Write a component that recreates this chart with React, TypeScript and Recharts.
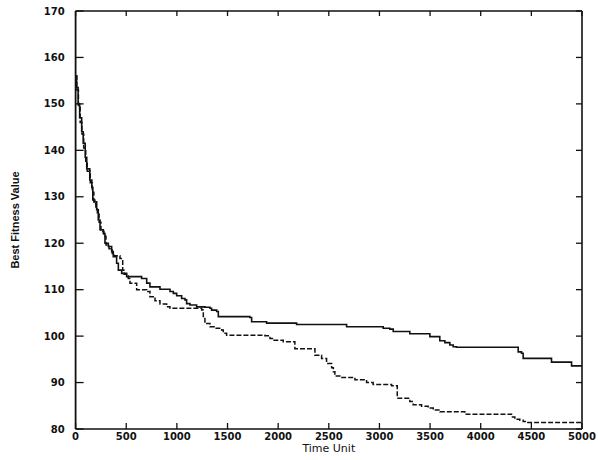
import React from 'react';
import { LineChart, Line, XAxis, YAxis } from 'recharts';

// step points: time unit -> best fitness (held until next point)
const solidTimes = [
  0, 10, 25, 40, 60, 75, 95, 110, 140, 160, 170, 190, 208, 224, 241, 274, 290, 323, 356, 372,
  405, 422, 455, 504, 652, 702, 734, 833, 932, 965, 998, 1047, 1080, 1096, 1129, 1195, 1277,
  1327, 1343, 1393, 1409, 1721, 1738, 1886, 2182, 2676, 3037, 3103, 3136, 3300, 3498, 3596,
  3646, 3695, 3728, 3761, 4370, 4403, 4419, 4699, 4897, 5000,
];
const solidValues = [
  156, 153.5, 150, 147, 144, 141.5, 138.5, 136, 133.6, 132, 129.3, 128.9, 127.2, 125, 122.9,
  122.1, 120, 119.3, 118.2, 117.1, 115.7, 114.2, 113.5, 112.8, 112.4, 111.4, 110.6, 110.1,
  109.6, 109.2, 108.7, 108.1, 107.8, 107, 106.7, 106.3, 106.2, 106, 105.6, 105.3, 104.2, 104,
  103.1, 102.8, 102.5, 102, 101.7, 101.5, 101, 100.5, 99.9, 99, 98.6, 98.1, 97.7, 97.6, 96.6,
  96.3, 95.2, 94.4, 93.6, 93.6,
];

const dashedTimes = [
  0, 12, 28, 45, 62, 80, 100, 115, 145, 165, 180, 200, 215, 232, 250, 280, 300, 330, 362, 380,
  438, 465, 480, 520, 537, 603, 702, 734, 784, 833, 899, 932, 1245, 1261, 1277, 1327, 1376,
  1442, 1458, 1491, 1869, 1919, 1951, 2050, 2165, 2363, 2429, 2478, 2528, 2545, 2560, 2609,
  2758, 2873, 2938, 3120, 3176, 3300, 3333, 3416, 3481, 3531, 3597, 3843, 4304, 4337, 4386,
  4419, 4452, 5000,
];
const dashedValues = [
  156, 153, 149.5, 146, 143.5, 140.5, 137.5, 135.5, 133, 131, 128.5, 127.8, 126.5, 124.5,
  122.5, 121.5, 119.6, 118.8, 117.8, 117.3, 116.7, 114.2, 113.3, 112.4, 111.4, 110, 109.6,
  108.5, 107.6, 106.9, 106.3, 106, 105.6, 103.8, 102.7, 102, 101.7, 101.3, 100.6, 100.2,
  100.1, 99.5, 99.1, 98.8, 97.3, 95.9, 95.2, 94.1, 93.2, 92.3, 91.4, 91.1, 90.6, 90, 89.6,
  89.3, 86.6, 85.9, 85.2, 84.9, 84.5, 84.1, 83.7, 83.2, 82.6, 82.1, 81.9, 81.6, 81.4, 81.4,
];

const xTicks = [0, 500, 1000, 1500, 2000, 2500, 3000, 3500, 4000, 4500, 5000];
const yTicks = [80, 90, 100, 110, 120, 130, 140, 150, 160, 170];

const solidData = solidTimes.map((t, i) => ({ t, v: solidValues[i] }));
const dashedData = dashedTimes.map((t, i) => ({ t, v: dashedValues[i] }));

const tickFont = { fontFamily: 'DejaVu Sans', fontSize: 10, fontWeight: 700, fill: '#111' };
const ink = '#111';

const LeftTick = ({ x, y, payload }: any) => (
  <g>
    <line x1={x} x2={x + 8} y1={y} y2={y} stroke={ink} strokeWidth={1.3} />
    <text x={x - 11} y={y} dy="0.36em" textAnchor="end" {...tickFont}>
      {payload.value}
    </text>
  </g>
);

const BottomTick = ({ x, y, payload }: any) => (
  <g>
    <line x1={x} x2={x} y1={y} y2={y - 6} stroke={ink} strokeWidth={1.3} />
    <text x={x} y={y + 11} textAnchor="middle" {...tickFont}>
      {payload.value}
    </text>
  </g>
);

const TopTick = ({ x, y }: any) => (
  <line x1={x} x2={x} y1={y} y2={y + 5} stroke={ink} strokeWidth={1.3} />
);

const RightTick = ({ x, y }: any) => (
  <line x1={x} x2={x - 6} y1={y} y2={y} stroke={ink} strokeWidth={1.3} />
);

export default function App() {
  return (
    <div style={{ position: 'absolute', left: 0, top: 0, background: '#fff' }}>
      <LineChart width={598} height={460} margin={{ top: 10, right: 15, bottom: 0, left: 0 }}>
        <XAxis
          dataKey="t"
          type="number"
          domain={[0, 5000]}
          ticks={xTicks}
          interval={0}
          height={31}
          tickSize={0}
          tickMargin={0}
          tickLine={false}
          tick={<BottomTick />}
          axisLine={{ stroke: ink, strokeWidth: 1.6 }}
          label={{
            content: ({ viewBox }: any) => (
              <text
                x={viewBox.x + viewBox.width / 2}
                y={viewBox.y + 23}
                textAnchor="middle"
                fontFamily="DejaVu Sans"
                fontSize={11}
                fill={ink}
              >
                Time Unit
              </text>
            ),
          }}
        />
        <XAxis
          xAxisId="top"
          orientation="top"
          dataKey="t"
          type="number"
          domain={[0, 5000]}
          ticks={xTicks}
          interval={0}
          height={1}
          tickSize={0}
          tickMargin={0}
          tickLine={false}
          tick={<TopTick />}
          axisLine={{ stroke: ink, strokeWidth: 1.6 }}
        />
        <YAxis
          type="number"
          domain={[80, 170]}
          ticks={yTicks}
          interval={0}
          width={75.6}
          tickSize={0}
          tickMargin={0}
          tickLine={false}
          tick={<LeftTick />}
          axisLine={{ stroke: ink, strokeWidth: 1.8 }}
          label={{
            content: ({ viewBox }: any) => {
              const cx = 15;
              const cy = viewBox.y + viewBox.height / 2;
              return (
                <text
                  x={cx}
                  y={cy}
                  dy="0.35em"
                  textAnchor="middle"
                  transform={`rotate(-90 ${cx} ${cy})`}
                  fontFamily="Liberation Sans Narrow, Liberation Sans, sans-serif"
                  fontSize={11}
                  fontWeight={700}
                  fill={ink}
                >
                  Best Fitness Value
                </text>
              );
            },
          }}
        />
        <YAxis
          yAxisId="right"
          orientation="right"
          type="number"
          domain={[80, 170]}
          ticks={yTicks}
          interval={0}
          width={1}
          tickSize={0}
          tickMargin={0}
          tickLine={false}
          tick={<RightTick />}
          axisLine={{ stroke: ink, strokeWidth: 1.6 }}
        />
        {/* invisible series so the top and right frame axes are drawn */}
        <Line
          data={solidData}
          dataKey="v"
          xAxisId="top"
          yAxisId="right"
          stroke="none"
          strokeOpacity={0}
          dot={false}
          activeDot={false}
          legendType="none"
          isAnimationActive={false}
        />
        <Line
          data={solidData}
          dataKey="v"
          type="stepAfter"
          stroke={ink}
          strokeWidth={1.6}
          dot={false}
          isAnimationActive={false}
        />
        <Line
          data={dashedData}
          dataKey="v"
          type="stepAfter"
          stroke={ink}
          strokeWidth={1.5}
          strokeDasharray="5 2"
          dot={false}
          isAnimationActive={false}
        />
      </LineChart>
    </div>
  );
}
